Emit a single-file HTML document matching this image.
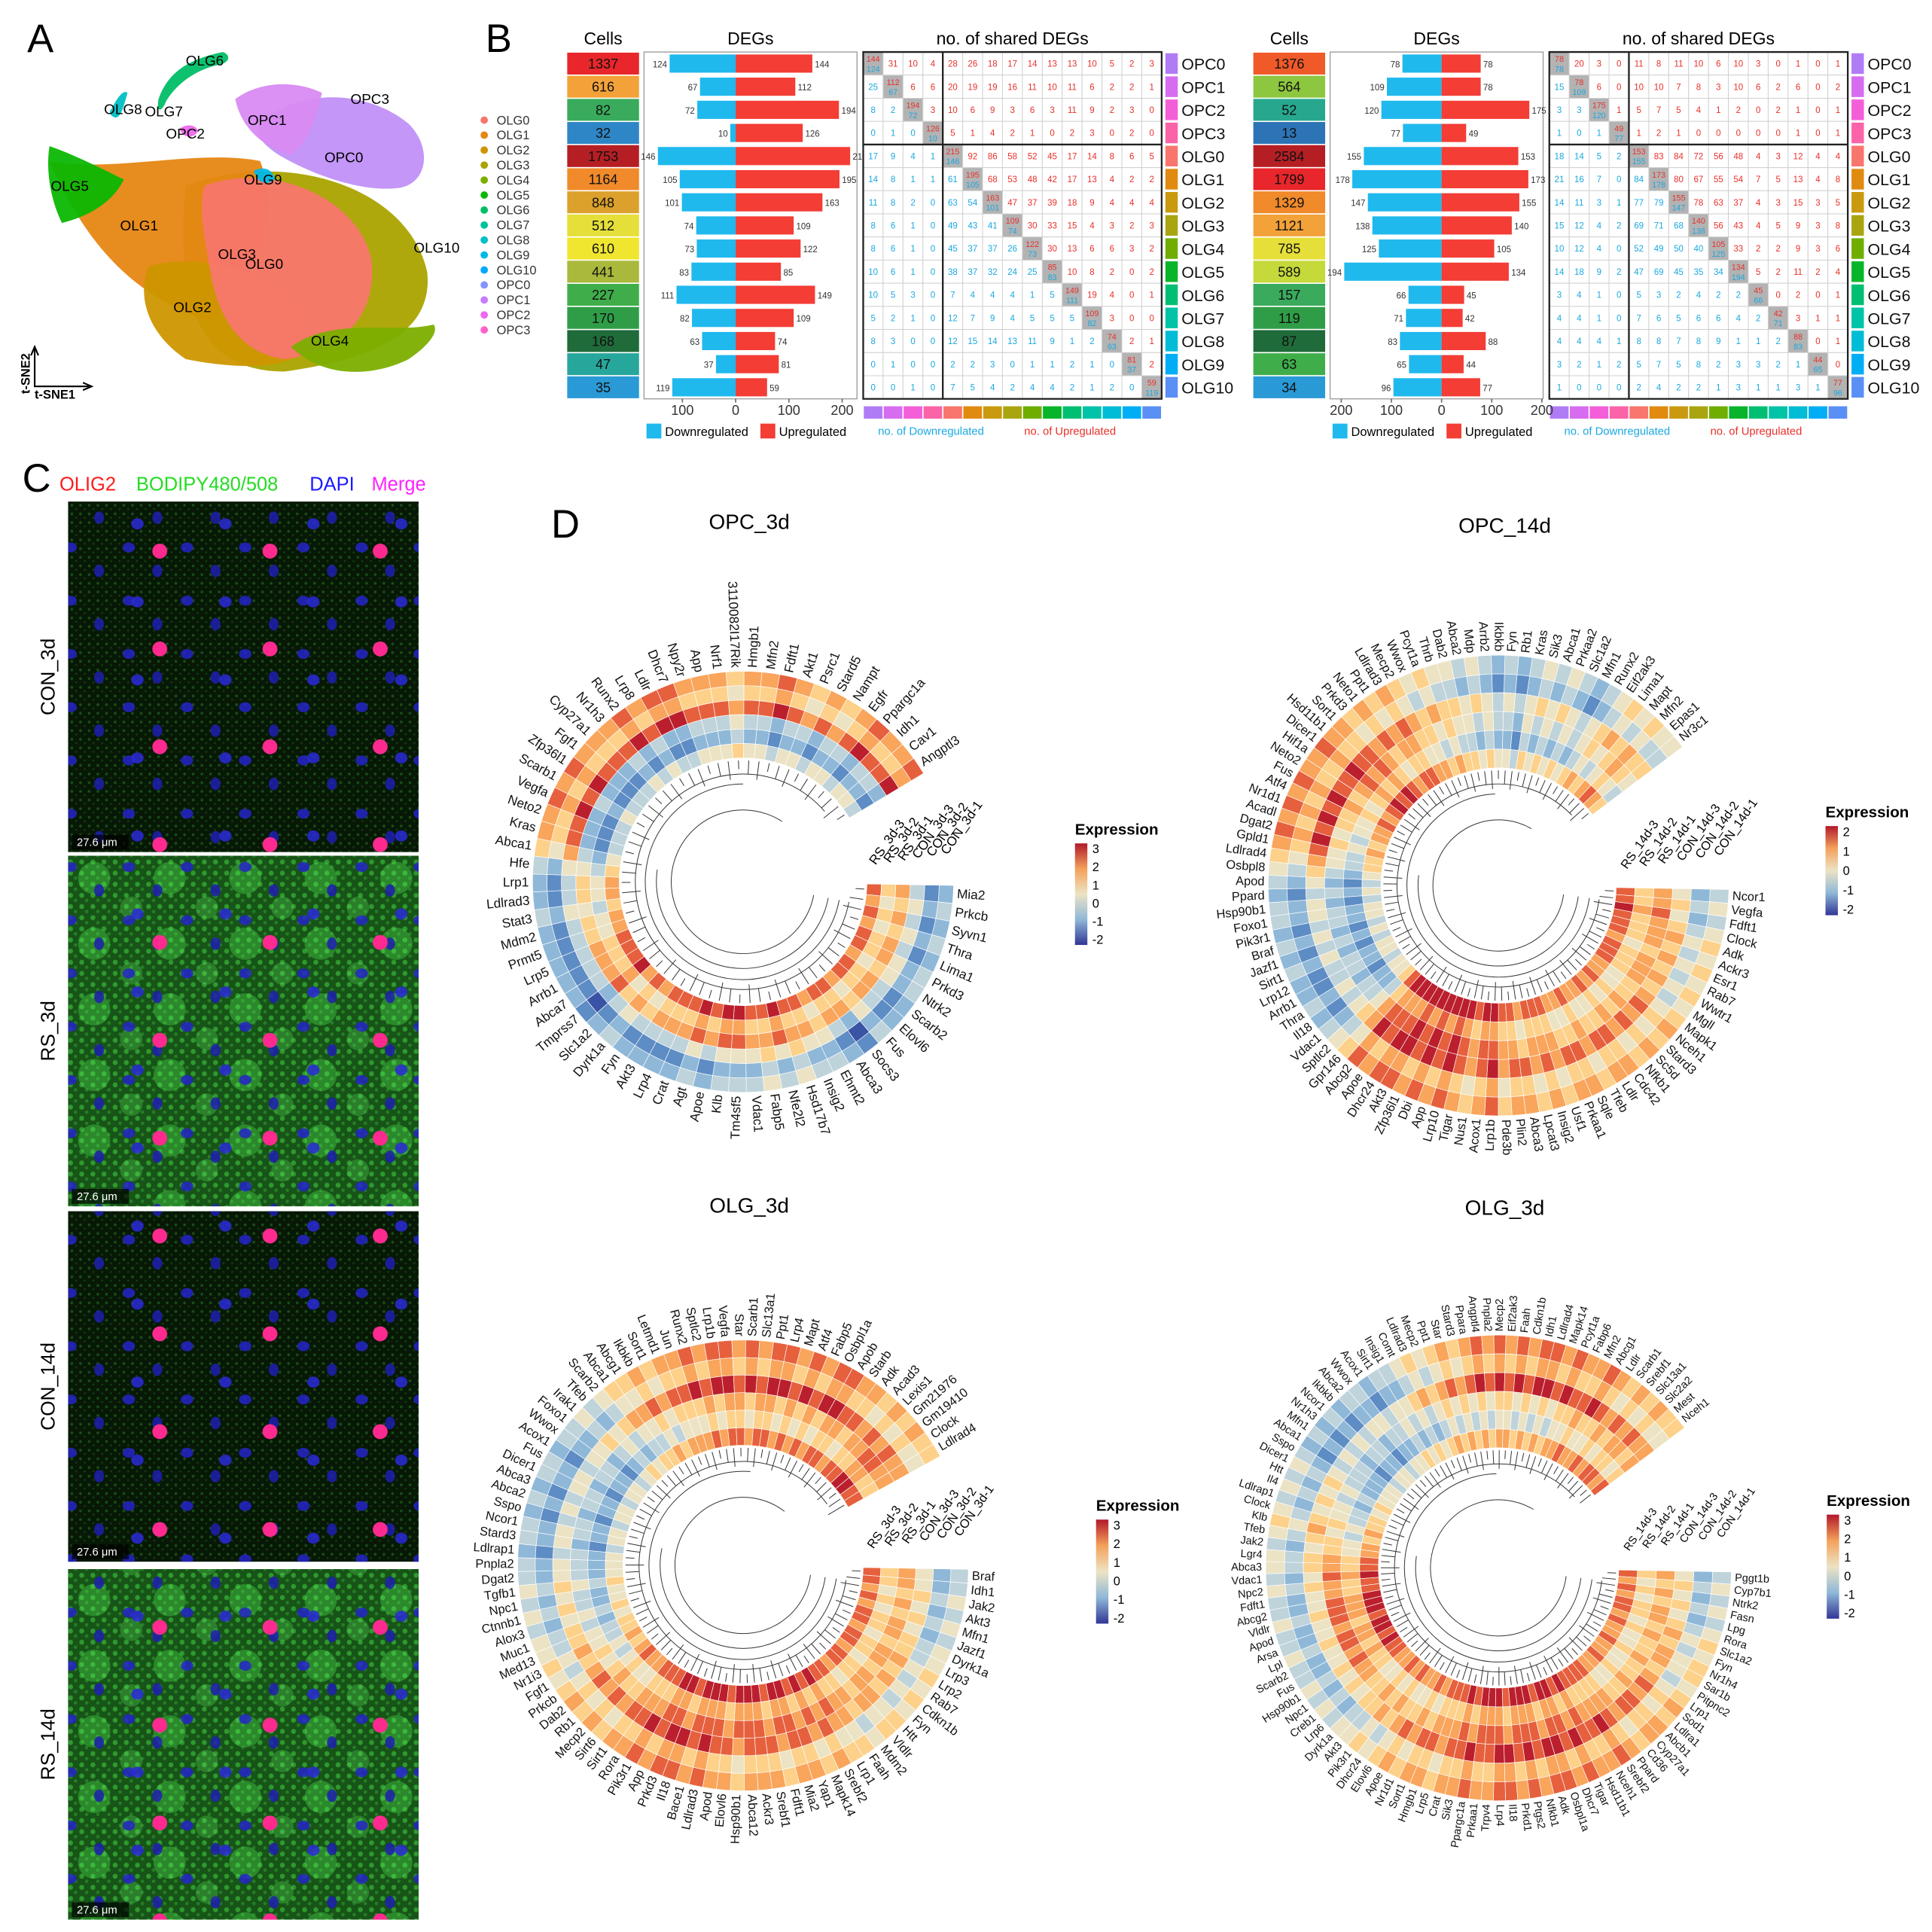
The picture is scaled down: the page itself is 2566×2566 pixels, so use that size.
<!DOCTYPE html>
<html><head><meta charset="utf-8"><style>
html,body{margin:0;padding:0;background:#fff}
svg{display:block}
text{font-family:"Liberation Sans",sans-serif}
</style></head><body>
<svg id="fig" xmlns="http://www.w3.org/2000/svg" width="2566" height="2566" viewBox="0 0 1560 1560">
<defs>
<pattern id="pBlue" width="47" height="43" patternUnits="userSpaceOnUse"><ellipse cx="10" cy="12" rx="5" ry="4" fill="#2424c8"/><ellipse cx="33" cy="31" rx="4" ry="5" fill="#1e1eb0"/></pattern>
<pattern id="pBlue2" width="71" height="63" patternUnits="userSpaceOnUse" patternTransform="translate(20,15)"><ellipse cx="20" cy="30" rx="5" ry="4.5" fill="#2a2ad8"/></pattern>
<pattern id="pPink" width="89" height="79" patternUnits="userSpaceOnUse" patternTransform="translate(10,30)"><circle cx="30" cy="20" r="6" fill="#ff2a90"/></pattern>
<pattern id="pGreen" width="7" height="7" patternUnits="userSpaceOnUse"><circle cx="2" cy="2" r="1.1" fill="#2a962a"/><circle cx="5.5" cy="5" r="0.8" fill="#1c701c"/></pattern>
<pattern id="pGreenB" width="9" height="9" patternUnits="userSpaceOnUse"><rect width="9" height="9" fill="#185a18"/><circle cx="3" cy="3" r="2" fill="#36b036"/><circle cx="7" cy="7" r="1.4" fill="#2a8e2a"/></pattern>
<pattern id="pBlob" width="61" height="53" patternUnits="userSpaceOnUse"><circle cx="15" cy="20" r="13" fill="#5aff5a" opacity="0.3"/><circle cx="45" cy="44" r="9" fill="#66ff66" opacity="0.25"/></pattern>
<linearGradient id="expGrad" x1="0" y1="0" x2="0" y2="1">
<stop offset="0" stop-color="#b2182b"/><stop offset="0.25" stop-color="#f4a15a"/><stop offset="0.5" stop-color="#ece3c4"/><stop offset="0.75" stop-color="#8fb8d8"/><stop offset="1" stop-color="#313695"/></linearGradient>
</defs>
<g id="root"></g>
</svg>
<script>
// ===== Panel B data =====
const clusterNames = ["OPC0","OPC1","OPC2","OPC3","OLG0","OLG1","OLG2","OLG3","OLG4","OLG5","OLG6","OLG7","OLG8","OLG9","OLG10"];
const leftCells = [1337,616,82,32,1753,1164,848,512,610,441,227,170,168,47,35];
const leftDown = [124,67,72,10,146,105,101,74,73,83,111,82,63,37,119];
const leftUp = [144,112,194,126,215,195,163,109,122,85,149,109,74,81,59];
const rightCells = [1376,564,52,13,2584,1799,1329,1121,785,589,157,119,87,63,34];
const rightDown = [78,109,120,77,155,178,147,138,125,194,66,71,83,65,96];
const rightUp = [78,78,175,49,153,173,155,140,105,134,45,42,88,44,77];
const leftShared = [
[144,31,10,4,28,26,18,17,14,13,13,10,5,2,3],
[25,112,6,6,20,19,19,16,11,10,11,6,2,2,1],
[8,2,194,3,10,6,9,3,6,3,11,9,2,3,0],
[0,1,0,126,5,1,4,2,1,0,2,3,0,2,0],
[17,9,4,1,215,92,86,58,52,45,17,14,8,6,5],
[14,8,1,1,61,195,68,53,48,42,17,13,4,2,2],
[11,8,2,0,63,54,163,47,37,39,18,9,4,4,4],
[8,6,1,0,49,43,41,109,30,33,15,4,3,2,3],
[8,6,1,0,45,37,37,26,122,30,13,6,6,3,2],
[10,6,1,0,38,37,32,24,25,85,10,8,2,0,2],
[10,5,3,0,7,4,4,4,1,5,149,19,4,0,1],
[5,2,1,0,12,7,9,4,5,5,5,109,3,0,0],
[8,3,0,0,12,15,14,13,11,9,1,2,74,2,1],
[0,1,0,0,2,2,3,0,1,1,2,1,0,81,2],
[0,0,1,0,7,5,4,2,4,4,2,1,2,0,59]];
const rightShared = [
[78,20,3,0,11,8,11,10,6,10,3,0,1,0,1],
[15,78,6,0,10,10,7,8,3,10,6,2,6,0,2],
[3,3,175,1,5,7,5,4,1,2,0,2,1,0,1],
[1,0,1,49,1,2,1,0,0,0,0,0,1,0,1],
[18,14,5,2,153,83,84,72,56,48,4,3,12,4,4],
[21,16,7,0,84,173,80,67,55,54,7,5,13,4,8],
[14,11,3,1,77,79,155,78,63,37,4,3,15,3,5],
[15,12,4,2,69,71,68,140,56,43,4,5,9,3,8],
[10,12,4,0,52,49,50,40,105,33,2,2,9,3,6],
[14,18,9,2,47,69,45,35,34,134,5,2,11,2,4],
[3,4,1,0,5,3,2,4,2,2,45,0,2,0,1],
[4,4,1,0,7,6,5,6,6,4,2,42,3,1,1],
[4,4,4,1,8,8,7,8,9,1,1,2,88,0,1],
[3,2,1,2,5,7,5,8,2,3,3,2,1,44,0],
[1,0,0,0,2,4,2,2,1,3,1,1,3,1,77]];

// ===== Panel A legend =====
const tsneLabels = ["OLG0","OLG1","OLG2","OLG3","OLG4","OLG5","OLG6","OLG7","OLG8","OLG9","OLG10","OPC0","OPC1","OPC2","OPC3"];

// ===== Panel D data (values 0..8 => -2..+2 expression bins) =====
const opc3dGenes = ["Mia2","Prkcb","Syvn1","Thra","Lima1","Prkd3","Ntrk2","Scarb2","Elovl6","Fus","Socs3","Abca3","Ehmt2","Insig2","Hsd17b7","Nfe2l2","Fabp5","Vdac1","Tm4sf5","Klb","Apoe","Agt","Crat","Lrp4","Akt3","Fyn","Dyrk1a","Slc1a2","Tmprss7","Abca7","Arrb1","Lrp5","Prmt5","Mdm2","Stat3","Ldlrad3","Lrp1","Hfe","Abca1","Kras","Neto2","Vegfa","Scarb1","Zfp36l1","Fgf1","Cyp27a1","Nr1h3","Runx2","Lrp8","Ldlr","Dhcr7","Npy2r","App","Nrf1","3110082I17Rik","Hmgb1","Mfn2","Fdft1","Akt1","Psrc1","Stard5","Nampt","Egfr","Ppargc1a","Idh1","Cav1","Angptl3"];
const opc3dCon = [2,3,2,3,2,3,3,2,2,3,1,2,3,3,4,3,4,3,3,3,2,3,2,2,2,2,3,2,1,2,2,2,2,2,3,2,2,3,5,6,6,7,6,7,6,6,6,7,6,7,7,6,6,6,5,6,6,7,6,5,6,5,6,7,6,6,7];
const opc3dRs = [6,5,6,5,6,6,5,6,6,5,6,6,5,6,6,7,6,6,7,7,6,7,6,6,6,5,6,5,7,6,6,6,5,5,4,5,5,4,3,2,2,2,3,2,2,2,3,2,3,2,2,3,3,3,4,3,3,2,3,3,2,3,3,2,3,3,2];

const opc14dGenes = ["Ncor1","Vegfa","Fdft1","Clock","Adk","Ackr3","Esr1","Rab7","Wwtr1","Mgll","Mapk1","Nceh1","Stard3","Sc5d","Nfkb1","Cdc42","Ldlr","Tfeb","Sqle","Prkaa1","Usf1","Insig2","Lpcat3","Abca3","Plin2","Pde3b","Lrp1b","Acox1","Nus1","Tigar","Lrp10","App","Dbi","Zfp36l1","Akt3","Dhcr24","Apoe","Abcg2","Gpr146","Sptlc2","Vdac1","Il18","Thra","Arrb1","Lrp12","Sirt1","Jazf1","Braf","Pik3r1","Foxo1","Hsp90b1","Ppard","Apod","Osbpl8","Ldlrad4","Gpld1","Dgat2","Acadl","Nr1d1","Atf4","Fus","Neto2","Hif1a","Dicer1","Hsd11b1","Sort1","Prkd3","Neto1","Ppt1","Ldlrad3","Mecp2","Wwox","Pcyt1a","Thrb","Dab2","Abca2","Mdp","Arrb2","Ikbkb","Fyn","Rb1","Kras","Sik3","Abca1","Prkaa2","Slc1a2","Mfn1","Runx2","Eif2ak3","Lima1","Mapt","Mfn2","Epas1","Nr3c1"];
const opc14dCon = [3,4,3,4,5,4,5,4,5,4,5,6,5,6,5,6,6,5,6,6,5,6,5,6,6,5,7,6,5,6,7,6,7,6,7,7,6,7,5,4,3,2,3,2,2,3,2,3,2,3,3,2,3,4,5,6,7,6,7,6,7,6,6,7,6,6,5,6,5,6,5,4,5,4,4,3,4,3,2,3,2,3,4,3,4,3,2,3,4,5,4,5,4,4];
const opc14dRs = [6,6,7,6,6,6,5,6,6,6,5,5,6,5,6,5,5,6,5,5,6,6,6,5,6,6,7,7,6,7,8,7,8,7,8,7,7,7,6,4,3,3,2,3,3,2,3,2,3,3,2,3,2,3,4,4,5,4,5,5,6,5,6,7,6,7,6,5,6,6,5,5,4,5,4,4,3,4,3,3,2,4,3,4,3,4,3,4,5,4,5,6,5,4];

const olg3dGenes = ["Braf","Idh1","Jak2","Akt3","Mfn1","Jazf1","Dyrk1a","Lrp3","Lrp2","Rab7","Cdkn1b","Fyn","Htt","Vldlr","Mdm2","Faah","Lrp1","Srebf2","Mapk14","Yap1","Mia2","Fdft1","Srebf1","Ackr3","Abca12","Hsp90b1","Elovl6","Apod","Ldlrad3","Bace1","Il18","Prkd3","App","Pik3r1","Rora","Sirt1","Sirt6","Mecp2","Rb1","Dab2","Prkcb","Fgf1","Nr1i3","Med13","Muc1","Alox3","Ctnnb1","Npc1","Tgfb1","Dgat2","Pnpla2","Ldlrap1","Stard3","Ncor1","Sspo","Abca2","Abca3","Dicer1","Fus","Acox1","Wwox","Foxo1","Irak1","Tfeb","Scarb2","Abca1","Abcg1","Ikbkb","Sort1","Letmd1","Jun","Runx2","Sptlc2","Lrp1b","Vegfa","Star","Scarb1","Slc13a1","Ppt1","Lrp4","Mapt","Atf4","Fabp5","Osbpl1a","Apob","Starb","Adk","Acad3","Lexis1","Gm21976","Gm19410","Clock","Ldlrad4"];
const olg3dCon = [3,3,4,3,4,3,4,4,5,4,5,4,5,5,4,5,5,6,5,6,6,5,6,6,6,5,6,6,7,6,7,7,6,7,6,6,5,6,5,6,5,4,5,4,4,3,4,3,4,3,3,2,3,3,2,3,2,3,3,2,3,3,4,3,4,5,5,6,5,6,6,7,6,7,7,6,7,6,7,7,6,7,6,7,7,6,6,5,6,5,6,5,5];
const olg3dRs = [6,6,5,6,5,6,6,5,6,6,5,6,6,5,6,6,7,6,7,6,7,7,6,7,7,7,6,7,7,7,6,7,7,6,6,6,5,5,6,5,4,5,4,4,3,4,3,3,4,3,3,3,2,3,3,2,3,3,2,3,3,2,3,4,3,4,4,5,4,5,5,5,6,5,6,6,5,6,6,5,6,5,6,5,6,6,5,6,6,7,7,6,6];

const olgRGenes = ["Pggt1b","Cyp7b1","Ntrk2","Fasn","Lpg","Rora","Slc1a2","Fyn","Nr1h4","Sar1b","Pitpnc2","Lrp1","Sod1","Ldlra1","Abcb1","Cyp27a1","Cd36","Ppard","Srebf2","Nceh1","Hsd11b1","Tigar","Dhcr7","Osbpl1a","Adk","Nfkb1","Ptgs2","Prkd1","Il18","Lrp4","Trpv4","Prkaa1","Ppargc1a","Sik3","Crat","Lrp5","Hmgb1","Sort1","Nr1d1","Apoe","Elovl6","Dhcr24","Pik3r1","Akt3","Dyrk1a","Lrp6","Creb1","Npc1","Hsp90b1","Fus","Scarb2","Lpl","Arsa","Apod","Vldlr","Abcg2","Fdft1","Npc2","Vdac1","Abca3","Lgr4","Jak2","Tfeb","Klb","Clock","Ldlrap1","Il4","Htt","Dicer1","Sspo","Abca1","Mfn1","Nr1h3","Ncor1","Ikbkb","Abca2","Wwox","Acox1","Sirt1","Insig1","Comt","Ldlrad3","Mecp2","Ppt1","Star","Stard3","Ppara","Angptl4","Pnpla2","Mecp2","Eif2ak3","Faah","Cdkn1b","Idh1","Ldlrad4","Mapk14","Pcyt1a","Fabp6","Mfn2","Abcg1","Ldlr","Scarb1","Srebf1","Slc13a1","Slc2a2","Mest","Nceh1"];
const olgRCon = [3,4,3,4,3,4,5,4,5,5,4,5,6,5,6,6,5,6,7,6,6,7,6,7,7,6,7,6,7,7,6,6,7,6,6,5,6,6,5,6,5,4,5,4,4,3,4,3,4,3,3,4,3,3,4,3,3,4,3,4,4,3,4,5,4,3,4,3,4,3,2,3,2,3,2,3,3,2,3,3,4,5,4,5,6,5,6,7,6,7,6,7,6,7,7,6,7,6,6,7,6,5,6,5,6,5,5];
const olgRRs = [6,5,6,5,6,6,5,6,5,5,6,5,5,6,5,5,6,6,6,6,7,6,7,7,6,7,7,7,6,7,7,7,6,7,6,6,6,5,6,5,5,6,5,6,5,5,6,6,7,6,7,7,6,7,7,7,6,6,7,6,6,5,5,4,5,4,4,3,4,3,3,3,2,3,3,2,3,3,4,3,4,3,4,5,4,5,4,5,4,5,5,4,5,4,5,4,5,5,6,5,5,6,5,6,6,5,6];

// ===== helpers =====
const NS = "http://www.w3.org/2000/svg";
const root = document.getElementById('root');
function mk(tag, attrs, parent){const e=document.createElementNS(NS,tag);for(const k in attrs)e.setAttribute(k,attrs[k]);(parent||root).appendChild(e);return e;}
function txt(str, attrs, parent){const e=mk('text',attrs,parent);e.textContent=str;return e;}
const pal = ['#3a53a4','#5e8cc4','#8fb8d8','#bfd3db','#ece3c4','#fdd18a','#f9a55c','#e6603e','#bb1f2d'];
const hueCols = {"OLG0":"#F8766D","OLG1":"#E68613","OLG2":"#CD9600","OLG3":"#ABA300","OLG4":"#7CAE00","OLG5":"#0CB702","OLG6":"#00BE67","OLG7":"#00C19A","OLG8":"#00BFC4","OLG9":"#00B8E7","OLG10":"#00A9FF","OPC0":"#8494FF","OPC1":"#C77CFF","OPC2":"#ED68ED","OPC3":"#FF61CC"};
const stripCols = {"OPC0":"#b07cf5","OPC1":"#d66cf0","OPC2":"#f45ed8","OPC3":"#fb63a8","OLG0":"#f8766d","OLG1":"#e08a10","OLG2":"#c99a10","OLG3":"#a9a510","OLG4":"#6fae00","OLG5":"#08b52a","OLG6":"#00bf72","OLG7":"#00c3a8","OLG8":"#00bcd6","OLG9":"#00aef5","OLG10":"#5a8ff5"};

// ===== Panel letters =====
[["A",22,42],["B",392,42],["C",18,397],["D",445,434]].forEach(([l,x,y])=>{
  const t=txt(l,{x:x,y:y,'font-size':32},root);
  
  
});

// ===== Panel A: t-SNE =====
const gA = mk('g',{},root);


const blobs = [
 ["OLG3",'M 150 150 C 230 120 330 150 345 220 C 350 270 300 290 230 300 C 170 300 140 260 150 150 Z'],
 ["OLG1",'M 40 130 C 90 140 160 120 210 130 C 230 180 200 230 170 260 C 110 240 70 200 40 130 Z'],
 ["OLG2",'M 120 215 C 170 200 240 230 250 260 C 260 300 200 300 150 290 C 120 270 110 240 120 215 Z'],
 ["OLG0",'M 165 150 C 220 130 290 160 300 210 C 305 260 270 285 230 290 C 190 285 175 250 170 220 C 165 190 160 170 165 150 Z'],
 ["OLG4",'M 235 280 C 270 255 320 270 350 262 C 355 268 345 280 330 290 C 300 305 260 305 235 280 Z'],
 ["OLG5",'M 40 118 C 60 125 80 135 100 145 C 90 165 70 175 50 180 C 40 160 37 135 40 118 Z'],
 ["OPC0",'M 215 95 C 250 70 300 75 330 100 C 350 120 345 150 320 152 C 290 155 250 140 225 125 C 205 112 205 103 215 95 Z'],
 ["OPC1",'M 190 80 C 210 65 240 65 260 75 C 255 95 250 115 235 125 C 215 120 195 105 190 80 Z'],
 ["OLG6",'M 128 80 C 135 60 150 48 180 42 C 186 44 186 50 178 52 C 158 56 142 68 134 82 C 131 90 126 92 128 80 Z'],
 ["OLG8",'M 90 88 C 95 78 100 72 103 75 C 100 85 98 95 93 95 C 88 93 88 90 90 88 Z'],
 ["OPC2",'M 145 104 C 150 100 158 100 160 106 C 156 112 148 112 145 104 Z'],
 ["OLG9",'M 205 138 C 212 134 220 136 222 145 C 215 150 208 148 205 138 Z']
];
blobs.forEach(([n,d])=>{
  const p=mk('path',{d:d,fill:hueCols[n]==="#8494FF"?"#c090f8":hueCols[n],opacity:0.95},gA);
  if(n==="OPC1")p.setAttribute('fill','#d98af2');
  
  
});
[["OLG6",150,53],["OLG8",84,92],["OLG7",117,94],["OPC2",134,112],["OPC1",200,101],["OPC3",283,84],["OPC0",262,131],["OLG5",41,154],["OLG9",197,149],["OLG1",97,186],["OLG3",176,209],["OLG0",198,217],["OLG10",334,204],["OLG2",140,252],["OLG4",251,279]].forEach(([l,x,y])=>{
  const t=txt(l,{x:x,y:y,'font-size':11.5},gA);
  
  
});
tsneLabels.forEach((l,i)=>{
  const y=97+i*12.1;
  const c=mk('circle',{cx:391,cy:y,r:3,fill:hueCols[l]},gA);
  
  
  const t=txt(l,{x:401,y:y+3.5,'font-size':10,fill:'#333'},gA);
  
  
});
const ax=mk('path',{d:'M 28 282 L 28 312 L 72 312 M 25 287 L 28 280 L 31 287 M 67 309 L 74 312 L 67 315',stroke:'#000','stroke-width':1.3,fill:'none'},gA);


let t1=txt('t-SNE1',{x:28,y:322,'font-size':10,'font-weight':'bold'},gA);


let t2=txt('t-SNE2',{x:0,y:0,'font-size':10,'font-weight':'bold',transform:'translate(24,318) rotate(-90)'},gA);



// ===== Panel B =====
function panelB(x0, cells, down, up, shared, cellCols, scale, ticks, side){
  const g=mk('g',{},root);
  
  
  const top=42, rh=18.67, n=15;
  const cx=x0, cw=58, dx=x0+62, dw=172, zero=dx+ (side==='left'?74:90), gx=dx+dw+5, gw=241;
  let h=txt('Cells',{x:cx+cw/2,y:36,'font-size':14,'text-anchor':'middle'},g);
  
  
  h=txt('DEGs',{x:dx+dw/2,y:36,'font-size':14,'text-anchor':'middle'},g);
  
  
  h=txt('no. of shared DEGs',{x:gx+gw/2,y:36,'font-size':14,'text-anchor':'middle'},g);
  
  
  const box=mk('rect',{x:dx,y:top,width:dw,height:rh*n,fill:'none',stroke:'#999','stroke-width':0.8},g);
  
  
  for(let i=0;i<n;i++){
    const y=top+i*rh;
    const r=mk('rect',{x:cx,y:y+0.5,width:cw,height:rh-1,fill:cellCols[i]},g);
    
    
    const ct=txt(String(cells[i]),{x:cx+cw/2,y:y+rh/2+4,'font-size':11,'text-anchor':'middle',fill:'#111'},g);
    
    
    const bd=mk('rect',{x:zero-down[i]*scale,y:y+2,width:down[i]*scale,height:rh-4,fill:'#1fb9ee'},g);
    
    
    const bu=mk('rect',{x:zero,y:y+2,width:up[i]*scale,height:rh-4,fill:'#f33d35'},g);
    
    
    let l=txt(String(down[i]),{x:zero-down[i]*scale-2,y:y+rh/2+3,'font-size':7,'text-anchor':'end',fill:'#333'},g);
    
    
    l=txt(String(up[i]),{x:zero+up[i]*scale+2,y:y+rh/2+3,'font-size':7,fill:'#333'},g);
    
    
    for(let j=0;j<n;j++){
      const cwid=gw/n, xx=gx+j*cwid;
      const cell=mk('rect',{x:xx,y:y,width:cwid,height:rh,fill:i===j?'#b3b3b3':'#fff',stroke:'#d0d0d0','stroke-width':0.6},g);
      
      
      if(i===j){
        let a=txt(String(up[i]),{x:xx+cwid/2,y:y+8,'font-size':6.5,'text-anchor':'middle',fill:'#e8302a'},g);
        
        
        a=txt(String(down[i]),{x:xx+cwid/2,y:y+16,'font-size':6.5,'text-anchor':'middle',fill:'#1aa8e0'},g);
        
        
      } else {
        const a=txt(String(shared[i][j]),{x:xx+cwid/2,y:y+rh/2+2.5,'font-size':7,'text-anchor':'middle',fill:j>i?'#e8302a':'#1aa8e0'},g);
        
        
      }
    }
    const s=mk('rect',{x:gx+gw+3,y:y+1,width:10,height:rh-2,fill:stripCols[clusterNames[i]]},g);
    
    
    const nm=txt(clusterNames[i],{x:gx+gw+16,y:y+rh/2+5,'font-size':13,fill:'#111'},g);
    
    
    const bs=mk('rect',{x:gx+i*gw/n+0.5,y:top+rh*n+6,width:gw/n-1,height:10,fill:stripCols[clusterNames[i]]},g);
    
    
  }
  const fr=mk('path',{d:`M ${gx} ${top} h ${gw} v ${rh*n} h ${-gw} Z M ${gx+gw/n*4} ${top} v ${rh*n} M ${gx} ${top+rh*4} h ${gw}`,fill:'none',stroke:'#222','stroke-width':1.4},g);
  
  
  ticks.forEach(v=>{
    const xx=zero+v*scale;
    const tk=mk('line',{x1:xx,y1:top+rh*n,x2:xx,y2:top+rh*n+3,stroke:'#666'},g);
    
    
    const tl=txt(String(Math.abs(v)),{x:xx,y:top+rh*n+13,'font-size':11,'text-anchor':'middle',fill:'#333'},g);
    
    
  });
  const ly=top+rh*n+20;
  let q=mk('rect',{x:dx+2,y:ly,width:12,height:12,fill:'#1fb9ee'},g);
  
  
  q=txt('Downregulated',{x:dx+17,y:ly+10,'font-size':10},g);
  
  
  q=mk('rect',{x:dx+94,y:ly,width:12,height:12,fill:'#f33d35'},g);
  
  
  q=txt('Upregulated',{x:dx+109,y:ly+10,'font-size':10},g);
  
  
  q=txt('no. of Downregulated',{x:gx+12,y:ly+9,'font-size':9,fill:'#1aa8e0'},g);
  
  
  q=txt('no. of Upregulated',{x:gx+130,y:ly+9,'font-size':9,fill:'#e8302a'},g);
  
  
}
const leftCellCols=['#e8262b','#f3a23a','#3aab5c','#2f86c6','#b51f24','#f08a2b','#dca12c','#e6df3a','#f0e630','#aab83c','#3fae4a','#2f9d47','#1f6b3a','#27a79b','#2a9ad6'];
const rightCellCols=['#ef5a28','#8dc63f','#27a88e','#2c74b6','#b51f24','#e8262b','#f08a2b','#f3a23a','#e6df3a','#c5d93a','#3aab5c','#2f9d47','#1f6b3a','#3fae4a','#2a9ad6'];
panelB(458,leftCells,leftDown,leftUp,leftShared,leftCellCols,0.43,[-100,0,100,200],'left');
panelB(1012,rightCells,rightDown,rightUp,rightShared,rightCellCols,0.405,[-200,-100,0,100,200],'right');

// ===== Panel C: micrographs =====
const gC=mk('g',{},root);


[["OLIG2",'#ff1a1a',48],["BODIPY480/508",'#22dd22',110],["DAPI",'#1a1aff',250],["Merge",'#ff22ff',300]].forEach(([s,c,x])=>{
  const t=txt(s,{x:x,y:396,'font-size':15.5,fill:c},gC);
  
  
});
[["CON_3d",405,false],["RS_3d",691,true],["CON_14d",978,false],["RS_14d",1267,true]].forEach(([name,y,bright])=>{
  const h=283;
  const g=mk('g',{},gC);
  
  
  mk('rect',{x:55,y:y,width:283,height:h,fill:bright?'#123c14':'#081806'},g);
  mk('rect',{x:55,y:y,width:283,height:h,fill:bright?'url(#pGreenB)':'url(#pGreen)',opacity:bright?0.8:0.45},g);
  if(bright) mk('rect',{x:55,y:y,width:283,height:h,fill:'url(#pBlob)'},g);
  mk('rect',{x:55,y:y,width:283,height:h,fill:'url(#pBlue)',opacity:0.85},g);
  mk('rect',{x:55,y:y,width:283,height:h,fill:'url(#pBlue2)',opacity:0.85},g);
  mk('rect',{x:55,y:y,width:283,height:h,fill:'url(#pPink)'},g);
  mk('rect',{x:58,y:y+h-14,width:46,height:12,fill:'#000',opacity:0.7},g);
  const sb=txt('27.6 μm',{x:62,y:y+h-5,'font-size':9,fill:'#fff'},g);
  
  
  const rl=txt(name,{x:0,y:0,'font-size':16,'text-anchor':'middle',transform:`translate(44,${y+h/2}) rotate(-90)`},gC);
  
  
});

// ===== Panel D: circular heatmaps =====
function arcPath(cx,cy,r0,r1,a0,a1){
  const c=Math.cos,s=Math.sin;
  return `M ${cx+r1*c(a0)} ${cy+r1*s(a0)} A ${r1} ${r1} 0 0 1 ${cx+r1*c(a1)} ${cy+r1*s(a1)} L ${cx+r0*c(a1)} ${cy+r0*s(a1)} A ${r0} ${r0} 0 0 0 ${cx+r0*c(a0)} ${cy+r0*s(a0)} Z`;
}
function circ(name,title,genes,con,rs,cx,cy,rin,rout,gapDeg,fs,ringLabels,legend){
  const g=mk('g',{},root);
  
  
  const tt=txt(title,{x:cx+5,y:cy-285,'font-size':17,'text-anchor':'middle'},g);
  
  
  const n=genes.length, span=(360-gapDeg)*Math.PI/180, step=span/n, start=1*Math.PI/180;
  const rw=(rout-rin)/6, jit=[0,-1,1];
  for(let gI=0;gI<n;gI++){
    const a0=start+gI*step, a1=a0+step;
    for(let r=0;r<6;r++){
      let v = r<3 ? con[gI]+jit[r] : rs[gI]+jit[r-3];
      v=Math.max(0,Math.min(8,v));
      const ro=rout-r*rw, ri=ro-rw;
      const p=mk('path',{d:arcPath(cx,cy,ri,ro,a0,a1),fill:pal[v],stroke:'#fff','stroke-width':0.4},g);
      
      
    }
    const am=(a0+a1)/2, deg=am*180/Math.PI;
    const lx=cx+(rout+3)*Math.cos(am), ly=cy+(rout+3)*Math.sin(am);
    const flip = deg>90 && deg<270;
    const lab=txt(genes[gI],{x:lx,y:ly,'font-size':fs,'text-anchor':flip?'end':'start','dominant-baseline':'middle',transform:`rotate(${flip?deg-180:deg} ${lx} ${ly})`,fill:'#111'},g);
    
    
    const d=mk('line',{x1:cx+(rin-2)*Math.cos(am),y1:cy+(rin-2)*Math.sin(am),x2:cx+(rin-9-(gI%3)*4)*Math.cos(am),y2:cy+(rin-9-(gI%3)*4)*Math.sin(am),stroke:'#333','stroke-width':0.6},g);
    
    
  }
  [[rin-13,0.6],[rin-21,0.6],[rin-30,0.6],[rin-42,0.6]].forEach(([r,w],k)=>{
    const frac=[1,0.85,0.6,0.95][k];
    const a0=start+step*2, a1=start+span*frac-step*2;
    const e=mk('path',{d:`M ${cx+r*Math.cos(a0)} ${cy+r*Math.sin(a0)} A ${r} ${r} 0 ${a1-a0>Math.PI?1:0} 1 ${cx+r*Math.cos(a1)} ${cy+r*Math.sin(a1)}`,fill:'none',stroke:'#333','stroke-width':w},g);
    
    
  });
  ringLabels.forEach((l,r)=>{
    const rr=rout-r*rw-rw/2, a=-8*Math.PI/180;
    const x=cx+rr*Math.cos(a), y=cy+rr*Math.sin(a);
    const t=txt(l,{x:x,y:y,'font-size':fs,transform:`rotate(${-55} ${x} ${y})`,'dominant-baseline':'middle'},g);
    
    
  });
  const [lx,ly,lh,lt]=legend;
  let q=txt('Expression',{x:lx,y:ly,'font-size':12.5,'font-weight':'bold'},g);
  
  
  q=mk('rect',{x:lx,y:ly+7,width:10,height:lh,fill:'url(#expGrad)'},g);
  
  
  lt.forEach((v,i)=>{
    const y=ly+7+lh*(i+0.3)/(lt.length-0.4);
    const tl=txt(String(v),{x:lx+14,y:y+3.5,'font-size':10},g);
    
    
  });
}
circ('opc-3d','OPC_3d',opc3dGenes,opc3dCon,opc3dRs,600,712,100,170,32,10.5,["CON_3d-1","CON_3d-2","CON_3d-3","RS_3d-1","RS_3d-2","RS_3d-3"],[868,674,82,[3,2,1,0,-1,-2]]);
circ('opc-14d','OPC_14d',opc14dGenes,opc14dCon,opc14dRs,1210,715,95,186,38,10,["CON_14d-1","CON_14d-2","CON_14d-3","RS_14d-1","RS_14d-2","RS_14d-3"],[1474,660,72,[2,1,0,-1,-2]]);
circ('olg-3d','OLG_3d',olg3dGenes,olg3dCon,olg3dRs,600,1264,97,182,30,10,["CON_3d-1","CON_3d-2","CON_3d-3","RS_3d-1","RS_3d-2","RS_3d-3"],[885,1220,84,[3,2,1,0,-1,-2]]);
circ('olg-14d','OLG_3d',olgRGenes,olgRCon,olgRRs,1210,1266,97,188,38,8.8,["CON_14d-1","CON_14d-2","CON_14d-3","RS_14d-1","RS_14d-2","RS_14d-3"],[1475,1216,84,[3,2,1,0,-1,-2]]);
</script>
</body></html>
